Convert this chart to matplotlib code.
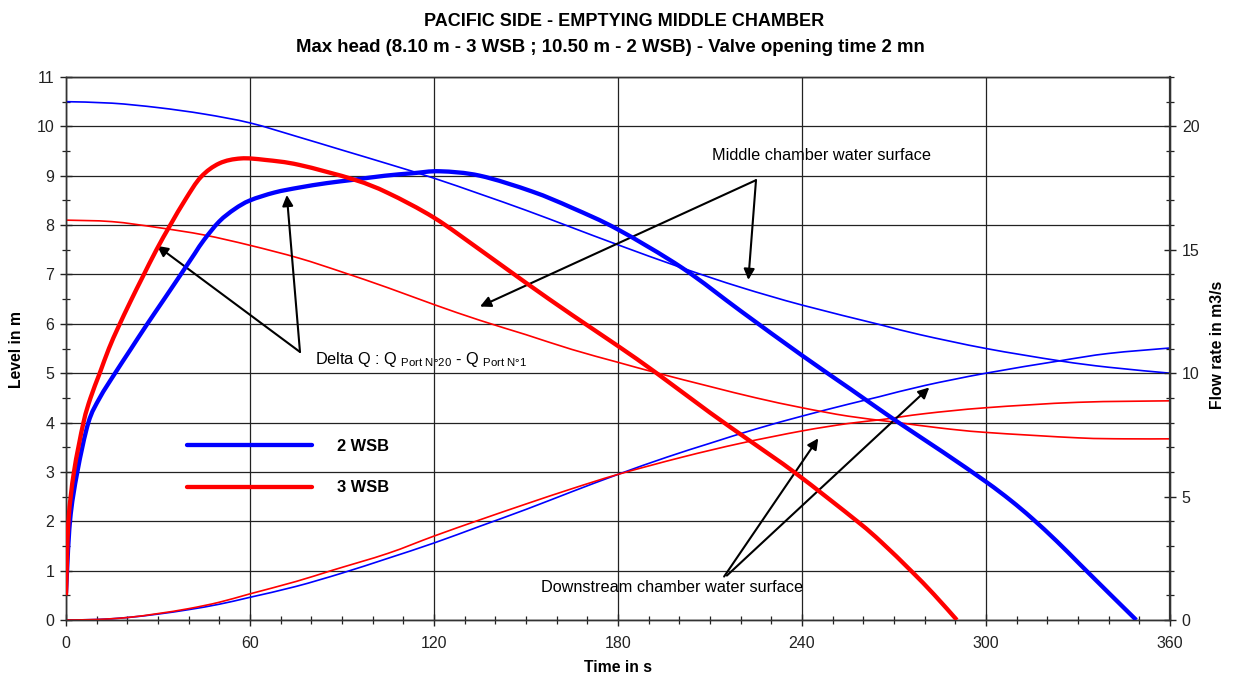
import matplotlib
matplotlib.use("Agg")
import matplotlib.pyplot as plt
from matplotlib.ticker import MultipleLocator
from matplotlib.path import Path
from matplotlib.patches import PathPatch
from matplotlib.lines import Line2D

plt.rcParams['font.family'] = ['Liberation Sans', 'DejaVu Sans']
plt.rcParams['mathtext.fontset'] = 'custom'
plt.rcParams['mathtext.rm'] = 'Liberation Sans'
plt.rcParams['mathtext.it'] = 'Liberation Sans:italic'
plt.rcParams['mathtext.bf'] = 'Liberation Sans:bold'

# ---------------- data ----------------
# Flow rate Delta Q (right axis, m3/s)
t_q_2wsb = [0, 1.3, 3.7, 7.3, 11, 16, 21, 26, 32, 37.7, 42, 45, 50, 55, 60, 68, 76, 85,
            94, 104, 113, 122, 135, 152, 165, 180, 201, 220, 240, 256, 271, 286, 300,
            308, 315, 323, 330.6, 340, 349]
q_2wsb = [1.1, 4.0, 6.0, 8.0, 9.0, 10.0, 10.95, 11.9, 13.0, 14.05, 14.85, 15.4, 16.15,
          16.65, 17.0, 17.32, 17.52, 17.7, 17.84, 18.0, 18.1, 18.18, 18.0, 17.36, 16.7,
          15.82, 14.26, 12.52, 10.72, 9.34, 8.04, 6.8, 5.6, 4.85, 4.12, 3.2, 2.26, 1.1,
          0.0]

t_q_3wsb = [0, 0.8, 2.6, 5.7, 8, 11, 14, 17, 21, 25, 29.5, 34, 39, 44, 50, 57, 65, 76,
            94, 105, 120, 135, 150, 165, 180, 192.6, 210, 223, 238, 258, 266, 275.5, 283,
            290.5]
q_3wsb = [1.0, 4.0, 6.0, 8.0, 9.0, 10.0, 11.0, 11.85, 12.9, 13.9, 15.0, 16.0, 17.05,
          17.95, 18.5, 18.7, 18.64, 18.44, 17.84, 17.3, 16.3, 15.0, 13.66, 12.36, 11.1,
          10.0, 8.4, 7.26, 5.94, 4.0, 3.14, 2.0, 1.04, 0.0]

# Middle chamber water surface (left axis, m)
t_mid_2wsb = [0, 15, 30, 45, 60, 75, 90, 105, 120, 135, 150, 165, 180, 201, 220, 240,
              265, 278.5, 300, 324, 340, 360]
mid_2wsb = [10.5, 10.47, 10.38, 10.25, 10.07, 9.8, 9.52, 9.24, 8.95, 8.63, 8.3, 7.95,
            7.6, 7.13, 6.74, 6.38, 5.99, 5.78, 5.5, 5.25, 5.12, 5.0]

t_mid_3wsb = [0, 15, 30, 45, 60, 76, 90, 105, 120, 135, 150, 165, 180, 193, 210, 225,
              240, 255, 270, 285, 300, 330, 345, 360]
mid_3wsb = [8.1, 8.07, 7.95, 7.8, 7.59, 7.33, 7.05, 6.73, 6.39, 6.07, 5.78, 5.48, 5.22,
            5.0, 4.73, 4.5, 4.3, 4.13, 4.01, 3.89, 3.8, 3.69, 3.67, 3.67]

# Downstream chamber water surface (left axis, m)
t_down_2wsb = [0, 10, 20, 30, 40, 50, 60, 75, 90, 105, 120, 135, 150, 165, 180, 196,
               210, 225, 240, 255, 265, 280, 300, 324, 340, 360]
down_2wsb = [0, 0.01, 0.05, 0.12, 0.21, 0.32, 0.46, 0.68, 0.95, 1.25, 1.56, 1.9, 2.24,
             2.6, 2.95, 3.3, 3.58, 3.87, 4.13, 4.37, 4.52, 4.75, 5.0, 5.25, 5.4, 5.51]

t_down_3wsb = [0, 10, 20, 30, 40, 50, 60, 75, 87, 105, 120, 135, 150, 165, 180, 201,
               220, 240, 255, 266, 280, 300, 330, 360]
down_3wsb = [0, 0.01, 0.05, 0.13, 0.23, 0.36, 0.53, 0.78, 1.01, 1.35, 1.7, 2.03, 2.35,
             2.66, 2.95, 3.3, 3.58, 3.83, 3.98, 4.06, 4.18, 4.3, 4.41, 4.44]

series_labels = ['2 WSB', '3 WSB']
title_1 = 'PACIFIC SIDE - EMPTYING MIDDLE CHAMBER'
title_2 = 'Max head (8.10 m - 3 WSB ; 10.50 m - 2 WSB) - Valve opening time 2 mn'

BLUE = '#0000FF'
RED = '#FF0000'


def smooth_line(axis, xs, ys, color, lw, zorder):
    """Draw a smoothed line (Excel-style Bezier) through the data points."""
    n = len(xs)
    verts = [(xs[0], ys[0])]
    codes = [Path.MOVETO]
    for i in range(n - 1):
        x0, y0 = xs[i], ys[i]
        x1, y1 = xs[i + 1], ys[i + 1]
        xm, ym = (xs[i - 1], ys[i - 1]) if i > 0 else (x0, y0)
        xp, yp = (xs[i + 2], ys[i + 2]) if i + 2 < n else (x1, y1)
        c1 = (x0 + (x1 - xm) / 6.0, y0 + (y1 - ym) / 6.0)
        c2 = (x1 - (xp - x0) / 6.0, y1 - (yp - y0) / 6.0)
        verts += [c1, c2, (x1, y1)]
        codes += [Path.CURVE4, Path.CURVE4, Path.CURVE4]
    patch = PathPatch(Path(verts, codes), fill=False, edgecolor=color, lw=lw,
                      transform=axis.transData, zorder=zorder, capstyle='butt',
                      joinstyle='round')
    axis.add_patch(patch)
    return patch


# ---------------- figure ----------------
fig = plt.figure(figsize=(12.33, 6.8), dpi=100)
ax = fig.add_axes([66 / 1233, 1 - 620 / 680, (1170 - 66) / 1233, (620 - 77) / 680])
ax2 = ax.twinx()

ax.set_xlim(0, 360)
ax.set_ylim(0, 11)
ax2.set_ylim(0, 22)

ax.xaxis.set_major_locator(MultipleLocator(60))
ax.xaxis.set_minor_locator(MultipleLocator(10))
ax.yaxis.set_major_locator(MultipleLocator(1))
ax.yaxis.set_minor_locator(MultipleLocator(0.5))
ax2.yaxis.set_major_locator(MultipleLocator(5))
ax2.yaxis.set_minor_locator(MultipleLocator(1))

ax.grid(True, which='major', color='#222222', lw=0.9)
ax.set_axisbelow(True)

for a in (ax, ax2):
    a.tick_params(which='major', direction='inout', length=9, width=1.0, labelsize=11.5,
                  colors='#222222')
    a.tick_params(which='minor', direction='inout', length=6, width=0.9, colors='#222222')
    for s in a.spines.values():
        s.set_color('#333333')
        s.set_linewidth(1.0)
ax2.spines['right'].set_linewidth(1.6)
ax.tick_params(axis='x', pad=7)
ax.tick_params(axis='y', pad=4)
ax2.tick_params(axis='y', pad=4)

# thin level lines
smooth_line(ax, t_mid_2wsb, mid_2wsb, BLUE, 1.2, 3)
smooth_line(ax, t_down_2wsb, down_2wsb, BLUE, 1.2, 3)
smooth_line(ax, t_mid_3wsb, mid_3wsb, RED, 1.2, 3)
smooth_line(ax, t_down_3wsb, down_3wsb, RED, 1.2, 3)

# thick flow lines
smooth_line(ax2, t_q_2wsb, q_2wsb, BLUE, 3.1, 4)
smooth_line(ax2, t_q_3wsb, q_3wsb, RED, 3.1, 4)

ax.set_xticks(range(0, 361, 60))
ax.set_yticks(range(0, 12))
ax2.set_yticks(range(0, 21, 5))

# axis labels
fig.text(17 / 1233, 1 - 350 / 680, 'Level in m', rotation=90, ha='center', va='center',
         fontsize=11.3, fontweight='bold')
fig.text(1218 / 1233, 1 - 345 / 680, 'Flow rate in m3/s', rotation=90, ha='center',
         va='center', fontsize=11.3, fontweight='bold')
fig.text(618 / 1233, 1 - 668 / 680, 'Time in s', ha='center', va='center',
         fontsize=11.3, fontweight='bold')

# titles
fig.text(624 / 1233, 1 - 21 / 680, title_1, ha='center', va='center', fontsize=13,
         fontweight='bold')
fig.text(610 / 1233, 1 - 47 / 680, title_2, ha='center', va='center', fontsize=13.4,
         fontweight='bold')

# legend
h2 = Line2D([], [], color=BLUE, lw=3.1, solid_capstyle='round')
h3 = Line2D([], [], color=RED, lw=3.1, solid_capstyle='round')
ax2.legend(handles=[h2, h3], labels=series_labels, loc='upper left',
           bbox_to_anchor=(0.1096, 0.333), frameon=False, handlelength=7.6,
           handletextpad=1.58, labelspacing=1.6, borderpad=0, borderaxespad=0,
           prop={'weight': 'bold', 'size': 11.8})

# annotations
arrow_kw = dict(arrowstyle='-|>', color='black', lw=1.5, mutation_scale=16,
                shrinkA=0, shrinkB=0)
FS = 11.7

ax.text(210.6, 9.4, 'Middle chamber water surface', fontsize=FS, ha='left',
        va='center', zorder=6)
ax.annotate('', xy=(222.5, 6.89), xytext=(225, 8.91), arrowprops=arrow_kw, zorder=6)
ax.annotate('', xy=(135, 6.35), xytext=(225, 8.91), arrowprops=arrow_kw, zorder=6)

ax.text(81.2, 5.27, r'Delta Q : Q $_{\mathrm{Port\ N°20}}$ - Q $_{\mathrm{Port\ N°1}}$',
        fontsize=FS, ha='left', va='center', zorder=6)
ax.annotate('', xy=(29.7, 7.58), xytext=(76.3, 5.43), arrowprops=arrow_kw, zorder=6)
ax.annotate('', xy=(72, 8.61), xytext=(76.3, 5.43), arrowprops=arrow_kw, zorder=6)

ax.text(154.9, 0.65, 'Downstream chamber water surface', fontsize=FS, ha='left',
        va='center', zorder=6)
ax.annotate('', xy=(245.3, 3.68), xytext=(214.6, 0.88), arrowprops=arrow_kw, zorder=6)
ax.annotate('', xy=(281.5, 4.71), xytext=(215.5, 0.9), arrowprops=arrow_kw, zorder=6)

fig.savefig('out.png', dpi=100)
